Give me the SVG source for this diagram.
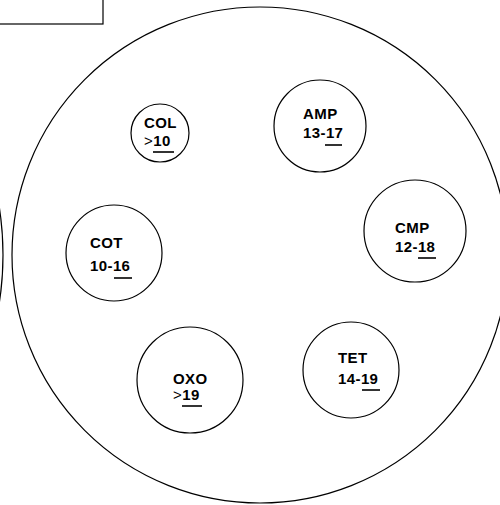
<svg xmlns="http://www.w3.org/2000/svg" width="500" height="505" viewBox="0 0 500 505">
<style>
.o{fill:none;stroke:#000;stroke-width:1.2}
.t{font-family:"Liberation Sans",Arial,sans-serif;font-weight:bold;font-size:15px;letter-spacing:0.4px;fill:#000}
.g{font-weight:normal}
.u{stroke:#000;stroke-width:1.6}
</style>
<rect width="500" height="505" fill="#fff"/>
<g id="frame">
<rect class="o" x="-10" y="-10" width="113" height="34"/>
<circle class="o" cx="-305" cy="255" r="308"/>
<circle class="o" cx="260" cy="255" r="248"/>
</g>
<g id="COL">
<circle class="o" cx="160" cy="133" r="29"/>
<text class="t" x="144" y="128">COL</text>
<text class="t" x="144" y="146"><tspan class="g">&gt;</tspan>10</text>
<line class="u" x1="153" y1="152" x2="174" y2="152"/>
</g>
<g id="AMP">
<circle class="o" cx="320" cy="126" r="46"/>
<text class="t" x="303" y="119">AMP</text>
<text class="t" x="303" y="138">13-17</text>
<line class="u" x1="325" y1="145" x2="342" y2="145"/>
</g>
<g id="CMP">
<circle class="o" cx="415" cy="231" r="51"/>
<text class="t" x="395" y="233">CMP</text>
<text class="t" x="395" y="252">12-18</text>
<line class="u" x1="418" y1="258" x2="436" y2="258"/>
</g>
<g id="COT">
<circle class="o" cx="114" cy="253" r="48"/>
<text class="t" x="90" y="248">COT</text>
<text class="t" x="90" y="271">10-16</text>
<line class="u" x1="114" y1="278" x2="132" y2="278"/>
</g>
<g id="OXO">
<circle class="o" cx="190" cy="380" r="53"/>
<text class="t" x="173" y="384">OXO</text>
<text class="t" x="173" y="400"><tspan class="g">&gt;</tspan>19</text>
<line class="u" x1="182" y1="406" x2="202" y2="406"/>
</g>
<g id="TET">
<circle class="o" cx="351" cy="370" r="48"/>
<text class="t" x="338" y="363">TET</text>
<text class="t" x="338" y="384">14-19</text>
<line class="u" x1="362" y1="390" x2="380" y2="390"/>
</g>
</svg>
